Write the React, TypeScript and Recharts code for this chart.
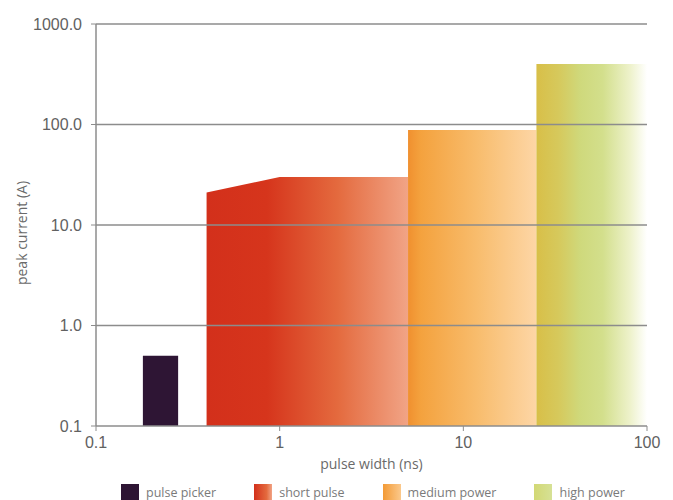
import React from 'react';
import { ComposedChart, Area, XAxis, YAxis, ReferenceLine, Label } from 'recharts';

// pulse width (ns) / peak current (A) outlines of each product range
const pulsePickerWidth = [0.18, 0.28];
const pulsePickerCurrent = [0.5, 0.5];
const shortPulseWidth = [0.4, 1, 5];
const shortPulseCurrent = [21, 30, 30];
const mediumPowerWidth = [5, 25];
const mediumPowerCurrent = [88, 88];
const highPowerWidth = [25, 100];
const highPowerCurrent = [400, 400];

const xTicks = [0.1, 1, 10, 100];
const yTicks = [0.1, 1, 10, 100, 1000];
const gridValues = [1, 10, 100, 1000];
const legendNames = ['pulse picker', 'short pulse', 'medium power', 'high power'];

const toPoints = (widths: number[], currents: number[]) =>
  widths.map((x, i) => ({ x, y: currents[i] }));

const series = [
  { key: 'pulsePicker', data: toPoints(pulsePickerWidth, pulsePickerCurrent), fill: '#2e1534' },
  { key: 'shortPulse', data: toPoints(shortPulseWidth, shortPulseCurrent), fill: 'url(#gradShort)' },
  { key: 'mediumPower', data: toPoints(mediumPowerWidth, mediumPowerCurrent), fill: 'url(#gradMedium)' },
  { key: 'highPower', data: toPoints(highPowerWidth, highPowerCurrent), fill: 'url(#gradHigh)' },
];

const legendSwatches = [
  '#2e1534',
  'linear-gradient(to right, #d3301b, #e46a3e 70%, #f1a486)',
  'linear-gradient(to right, #f39a35, #fbc98c)',
  'linear-gradient(to right, #d2d874, #d6e196)',
];

const axisColor = '#8c8c8c';
const tickStyle = { fontSize: 16, fill: '#616161', fontFamily: 'Liberation Sans, Arial, sans-serif' };

export default function App() {
  return (
    <div style={{ position: 'absolute', left: 0, top: 0, width: 673, height: 500, background: '#fff' }}>
      <ComposedChart
        width={673}
        height={500}
        margin={{ top: 24, right: 26, left: 16, bottom: 24 }}
      >
        <defs>
          <linearGradient id="gradShort" x1="0" y1="0" x2="1" y2="0">
            <stop offset="0" stopColor="#d3301b" />
            <stop offset="0.3" stopColor="#d6351c" />
            <stop offset="0.65" stopColor="#e46a3e" />
            <stop offset="1" stopColor="#f1a486" />
          </linearGradient>
          <linearGradient id="gradMedium" x1="0" y1="0" x2="1" y2="0">
            <stop offset="0" stopColor="#f0902f" />
            <stop offset="0.1" stopColor="#f4a23e" />
            <stop offset="0.55" stopColor="#f8bd6e" />
            <stop offset="1" stopColor="#fdd6a6" />
          </linearGradient>
          <linearGradient id="gradHigh" x1="0" y1="0" x2="1" y2="0">
            <stop offset="0" stopColor="#d8bf48" />
            <stop offset="0.2" stopColor="#d6c95c" />
            <stop offset="0.4" stopColor="#cfd97c" />
            <stop offset="0.6" stopColor="#d3df8c" />
            <stop offset="0.85" stopColor="#eef2cc" />
            <stop offset="1" stopColor="#ffffff" />
          </linearGradient>
        </defs>
        <XAxis
          dataKey="x"
          type="number"
          scale="log"
          domain={[0.1, 100]}
          ticks={xTicks}
          allowDataOverflow
          height={50}
          tick={tickStyle}
          tickSize={5}
          tickMargin={6}
          tickFormatter={(v) => String(v)}
          axisLine={{ stroke: axisColor, strokeWidth: 1.5 }}
          tickLine={{ stroke: axisColor }}
        >
          <Label
            value="pulse width (ns)"
            position="insideBottom"
            offset={7}
            style={{ fontSize: 14, fill: '#6a6a6a', fontFamily: 'Open Sans, sans-serif' }}
          />
        </XAxis>
        <YAxis
          dataKey="y"
          type="number"
          scale="log"
          domain={[0.1, 1000]}
          ticks={yTicks}
          allowDataOverflow
          width={80}
          tick={tickStyle}
          tickSize={5}
          tickMargin={9}
          tickFormatter={(v) => Number(v).toFixed(1)}
          axisLine={{ stroke: axisColor, strokeWidth: 1.5 }}
          tickLine={{ stroke: axisColor }}
        >
          <Label
            content={({ viewBox }: any) => (
              <text
                x={viewBox.x + 5}
                y={viewBox.y + viewBox.height / 2 + 8}
                transform={`rotate(-90 ${viewBox.x + 5} ${viewBox.y + viewBox.height / 2 + 8})`}
                textAnchor="middle"
                dominantBaseline="central"
                style={{ fontSize: 14, fill: '#6a6a6a', fontFamily: 'Open Sans, sans-serif' }}
              >
                peak current (A)
              </text>
            )}
          />
        </YAxis>
        {series.map((s) => (
          <Area
            key={s.key}
            data={s.data}
            dataKey="y"
            type="linear"
            fill={s.fill}
            fillOpacity={1}
            stroke="none"
            dot={false}
            activeDot={false}
            isAnimationActive={false}
          />
        ))}
        {gridValues.map((v) => (
          <ReferenceLine key={v} y={v} stroke={axisColor} strokeWidth={1.5} />
        ))}
      </ComposedChart>
      <div
        style={{
          position: 'absolute',
          left: 121,
          top: 484,
          display: 'flex',
          gap: 38,
          fontFamily: 'Open Sans, sans-serif',
          fontSize: 12.5,
          color: '#7a7a7a',
          lineHeight: '17px',
        }}
      >
        {legendNames.map((name, i) => (
          <div key={name} style={{ display: 'flex', alignItems: 'center', gap: 7 }}>
            <span style={{ width: 18, height: 17, background: legendSwatches[i], display: 'inline-block' }} />
            <span>{name}</span>
          </div>
        ))}
      </div>
    </div>
  );
}
